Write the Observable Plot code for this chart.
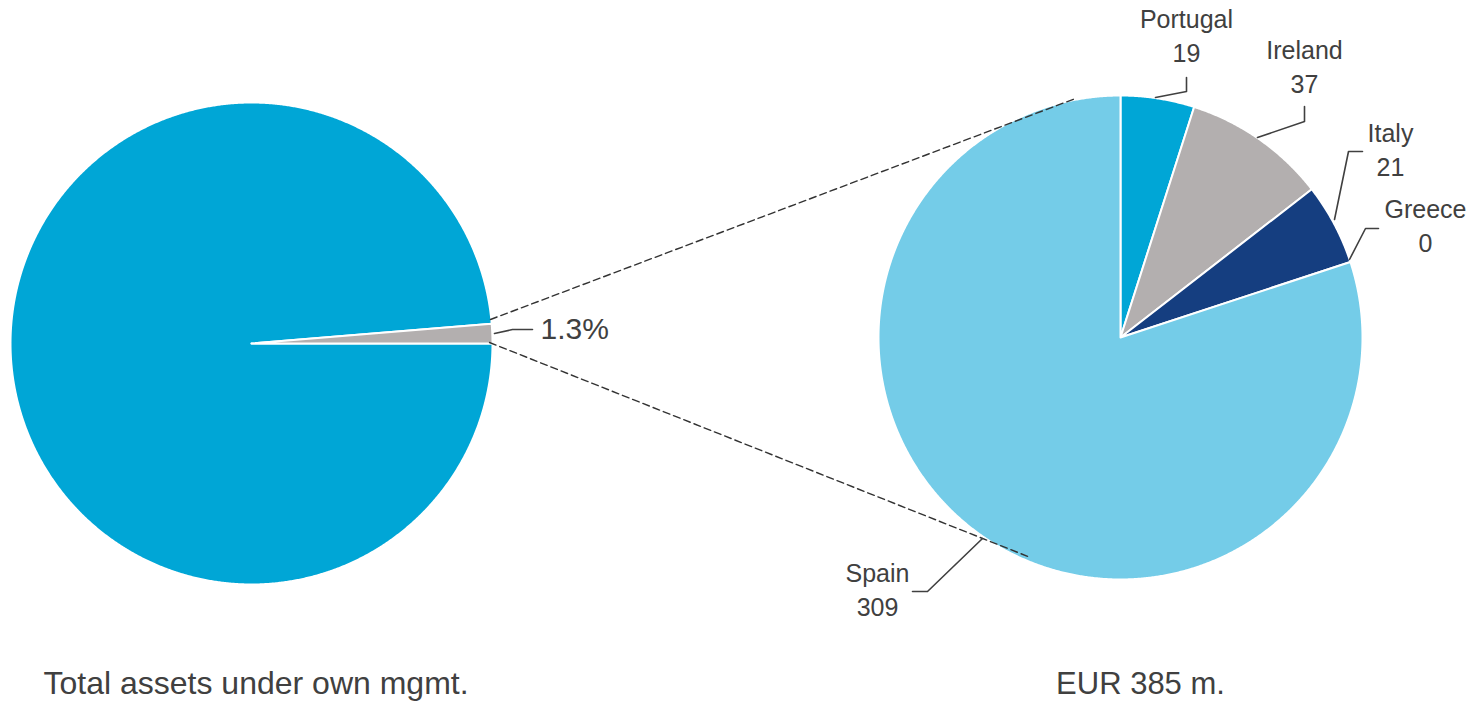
<!DOCTYPE html>
<html>
<head>
<meta charset="utf-8">
<script src="https://cdn.jsdelivr.net/npm/d3@7"></script>
<script src="https://cdn.jsdelivr.net/npm/@observablehq/plot@0.6"></script>
<style>
  html, body { margin: 0; padding: 0; background: #fff; }
</style>
</head>
<body>
<div id="chart"></div>
<script>
// ---- data ----
const leftCategories = ["Other assets", "Peripheral countries"];
const leftShares = [98.7, 1.3];
const leftColors = ["#00A6D6", "#B3AFAF"];

const countries = ["Portugal", "Ireland", "Italy", "Greece", "Spain"];
const amounts = [19, 37, 21, 0, 309];
const countryColors = ["#00A6D6", "#B3AFAF", "#153E80", "#74CCE8", "#74CCE8"];

const captions = ["Total assets under own mgmt.", "EUR 385 m."];

// ---- layout (pixels) ----
const W = 1480, H = 702;
const leftPie = {cx: 251, cy: 343, r: 241, start: Math.PI / 2};
const rightPie = {cx: 1120, cy: 337, r: 242, start: 0};
const labelPos = {
  Portugal: {x: 1186, y: 34, leader: [[1155, 97], [1186, 91], [1186, 77]]},
  Ireland:  {x: 1304, y: 65, leader: [[1257, 137], [1304, 121], [1304, 106]]},
  Italy:    {x: 1390, y: 148, leader: [[1334, 219], [1348, 151], [1362, 151]]},
  Greece:   {x: 1425, y: 224, leader: [[1349, 259], [1365, 228], [1378, 228]]},
  Spain:    {x: 877, y: 588, leader: [[982, 538], [927, 591], [912, 591]]}
};
const pctPos = {x: 540, y: 329, leader: [[494, 333], [512, 329], [532, 329]]};
const dashes = [[[490, 319], [1075, 98]], [[489, 342], [1030, 557]]];
const captionPos = [{x: 43, y: 683}, {x: 1140, y: 684}];

// ---- geometry from data ----
function slices(values, names, colors, geom, prefix) {
  const arcs = d3.pie().sort(null).value(d => d)
    .startAngle(geom.start).endAngle(geom.start + 2 * Math.PI)(values);
  const pts = [];
  arcs.forEach((a, i) => {
    const span = a.endAngle - a.startAngle;
    if (span <= 0) return;
    const id = prefix + names[i];
    const n = Math.max(2, Math.ceil(span / 0.005));
    pts.push({id, x: geom.cx, y: geom.cy, fill: colors[i]});
    for (let k = 0; k <= n; k++) {
      const t = a.startAngle + span * k / n;
      pts.push({id, x: geom.cx + geom.r * Math.sin(t), y: geom.cy - geom.r * Math.cos(t), fill: colors[i]});
    }
    pts.push({id, x: geom.cx, y: geom.cy, fill: colors[i]});
  });
  return pts;
}

const leftPts = slices(leftShares, leftCategories, leftColors, leftPie, "L-");
const rightPts = slices(amounts, countries, countryColors, rightPie, "R-");

const labels = countries.map((c, i) => ({x: labelPos[c].x, y: labelPos[c].y, text: `${c}\n${amounts[i]}`}));
const leaders = [];
countries.forEach(c => labelPos[c].leader.forEach(([x, y]) => leaders.push({id: c, x, y})));
pctPos.leader.forEach(([x, y]) => leaders.push({id: "pct", x, y}));
const dashPts = [];
dashes.forEach((d, i) => d.forEach(([x, y]) => dashPts.push({id: i, x, y})));
const pctLabel = [{x: pctPos.x, y: pctPos.y, text: `${leftShares[1].toFixed(1)}%`}];
const leftCaption = [{...captionPos[0], text: captions[0]}];
const rightCaption = [{...captionPos[1], text: captions[1]}];

const textColor = "#404040";

const chart = Plot.plot({
  width: W,
  height: H,
  margin: 0,
  x: {type: "identity", axis: null},
  y: {type: "identity", axis: null},
  color: {type: "identity"},
  style: {fontFamily: "'Liberation Sans', Arial, sans-serif", background: "#fff", overflow: "visible"},
  marks: [
    Plot.line(leftPts, {x: "x", y: "y", z: "id", fill: "fill", stroke: "#fff", strokeWidth: 2, strokeLinejoin: "round", curve: "linear"}),
    Plot.line(rightPts, {x: "x", y: "y", z: "id", fill: "fill", stroke: "#fff", strokeWidth: 2, strokeLinejoin: "round", curve: "linear"}),
    Plot.line(dashPts, {x: "x", y: "y", z: "id", stroke: "#333", strokeWidth: 1.4, strokeDasharray: "7,4"}),
    Plot.line(leaders, {x: "x", y: "y", z: "id", stroke: textColor, strokeWidth: 1.6, curve: "linear"}),
    Plot.text(labels, {x: "x", y: "y", text: "text", textAnchor: "middle", lineAnchor: "middle", lineHeight: 1.36, fontSize: 25, fill: textColor}),
    Plot.text(pctLabel, {x: "x", y: "y", text: "text", textAnchor: "start", lineAnchor: "middle", fontSize: 30, fill: textColor}),
    Plot.text(leftCaption, {x: "x", y: "y", text: "text", textAnchor: "start", lineAnchor: "middle", fontSize: 32, fill: textColor}),
    Plot.text(rightCaption, {x: "x", y: "y", text: "text", textAnchor: "middle", lineAnchor: "middle", fontSize: 31, fill: textColor})
  ]
});
document.getElementById("chart").appendChild(chart);
</script>
</body>
</html>
